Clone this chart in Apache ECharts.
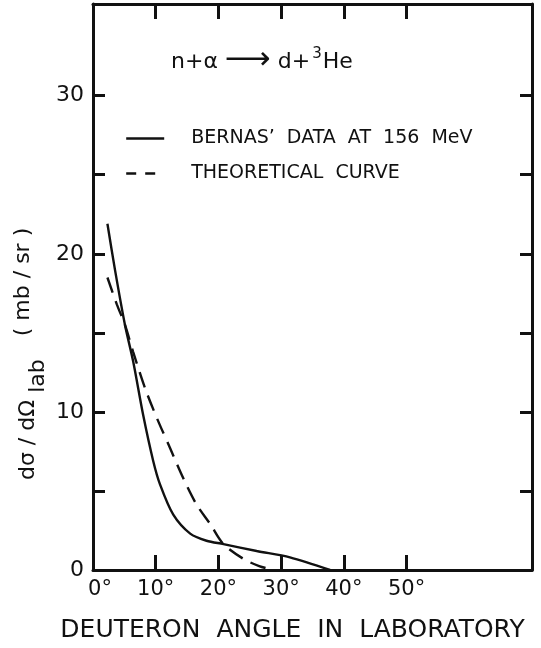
<!DOCTYPE html>
<html>
<head>
<meta charset="utf-8">
<script src="https://cdn.jsdelivr.net/npm/echarts@6/dist/echarts.min.js"></script>
<style>
  html, body { margin: 0; padding: 0; background: #fff; }
  #chart { width: 541px; height: 648px; }
</style>
</head>
<body>
<div id="chart"></div>
<script>
// Deuteron angle in the laboratory (degrees) and cross section (mb/sr)
const bernasAngle = [2.3, 3.5, 5.1, 6.4, 8.0, 9.6, 10.7, 12.8, 15.5, 18.1, 20.8, 26.1, 31.4, 37.8];
const bernasValue = [21.9, 19.0, 15.5, 13.2, 9.8, 6.9, 5.4, 3.5, 2.3, 1.85, 1.64, 1.2, 0.8, 0];

const theoryAngle = [2.3, 3.8, 5.1, 6.4, 8.3, 10.2, 12.3, 14.4, 16.5, 18.7, 20.8, 24.0, 26.5, 28.7];
const theoryValue = [18.5, 16.8, 15.5, 13.8, 11.5, 9.6, 7.7, 5.8, 4.15, 2.9, 1.64, 0.7, 0.25, 0];

const xLabelValues = [0, 10, 20, 30, 40, 50];
const xTickValues = [10, 20, 30, 40, 50];
const yLabelValues = [0, 10, 20, 30];
const yTickValues = [5, 10, 15, 20, 25, 30];

const seriesNames = ["BERNAS’  DATA  AT  156  MeV", "THEORETICAL  CURVE"];

const FONT = "DejaVu Sans";
const INK = "#111";

const pairs = (xs, ys) => xs.map((x, i) => [x, ys[i]]);

const chart = echarts.init(document.getElementById('chart'), null, { renderer: 'canvas' });

const frameLine = { show: true, onZero: false, lineStyle: { color: INK, width: 3 } };
// hide the marker the line-series legend icon adds on top of its stroke
const noMarker = { color: 'rgba(0,0,0,0)', borderWidth: 0, opacity: 0 };

chart.setOption({
  backgroundColor: '#fff',
  animation: false,
  title: {
    text: '{a|n+α }{r|⟶}{a| d+}{s|3}{a|He}',
    left: 166,
    top: 34,
    textStyle: {
      rich: {
        a: { fontFamily: FONT, fontSize: 22, fontWeight: 'normal', color: INK, padding: [8, 0, 0, 0] },
        r: { fontFamily: FONT, fontSize: 32, fontWeight: 'normal', color: INK, padding: [6, 0, 0, 0] },
        s: { fontFamily: FONT, fontSize: 15, fontWeight: 'normal', color: INK, padding: [0, 1, 8, 2] }
      }
    }
  },
  legend: {
    orient: 'vertical',
    left: 120,
    top: 124,
    itemWidth: 38,
    itemHeight: 14,
    itemGap: 16,
    textStyle: { fontFamily: FONT, fontSize: 19, color: INK, padding: [0, 0, 0, 22] },
    data: [
      { name: seriesNames[0], lineStyle: { color: INK, width: 2.4, type: 'solid' }, itemStyle: noMarker },
      { name: seriesNames[1], lineStyle: { color: INK, width: 2.4, type: [10, 9] }, itemStyle: noMarker }
    ]
  },
  grid: { left: 93, right: 9, top: 4, bottom: 74, containLabel: false },
  xAxis: [
    {
      type: 'value', min: 0, max: 70, interval: 10, position: 'bottom',
      axisLine: frameLine,
      axisTick: { show: true, inside: true, length: 15, lineStyle: { color: INK, width: 3 }, customValues: xTickValues },
      axisLabel: {
        fontFamily: FONT, fontSize: 21, color: INK, margin: 9,
        customValues: xLabelValues,
        formatter: v => (v === 0 ? '{z|0°}' : v + '°'),
        rich: { z: { fontFamily: FONT, fontSize: 21, color: INK, padding: [0, 0, 0, 14] } }
      },
      splitLine: { show: false },
      name: 'DEUTERON  ANGLE  IN  LABORATORY',
      nameLocation: 'middle',
      nameGap: 48,
      nameTextStyle: { fontFamily: FONT, fontSize: 25, color: INK, padding: [0, 40, 0, 0] }
    },
    {
      type: 'value', min: 0, max: 70, interval: 10, position: 'top',
      axisLine: frameLine,
      axisTick: { show: true, inside: true, length: 15, lineStyle: { color: INK, width: 3 }, customValues: xTickValues },
      axisLabel: { show: false },
      splitLine: { show: false }
    }
  ],
  yAxis: [
    {
      type: 'value', min: 0, max: 35.8, interval: 5, position: 'left',
      axisLine: frameLine,
      axisTick: { show: true, inside: true, length: 12, lineStyle: { color: INK, width: 3 }, customValues: yTickValues },
      axisLabel: { fontFamily: FONT, fontSize: 22, color: INK, margin: 9, customValues: yLabelValues },
      splitLine: { show: false }
    },
    {
      type: 'value', min: 0, max: 35.8, interval: 5, position: 'right',
      axisLine: frameLine,
      axisTick: { show: true, inside: true, length: 12, lineStyle: { color: INK, width: 3 }, customValues: yTickValues },
      axisLabel: { show: false },
      splitLine: { show: false }
    }
  ],
  graphic: [
    {
      type: 'text', x: 28, y: 440, rotation: Math.PI / 2,
      style: { text: 'dσ / dΩ', fontFamily: FONT, fontSize: 22, fill: INK, align: 'center', verticalAlign: 'middle' }
    },
    {
      type: 'text', x: 38, y: 376, rotation: Math.PI / 2,
      style: { text: 'lab', fontFamily: FONT, fontSize: 22, fill: INK, align: 'center', verticalAlign: 'middle' }
    },
    {
      type: 'text', x: 23, y: 282, rotation: Math.PI / 2,
      style: { text: '( mb / sr )', fontFamily: FONT, fontSize: 22, fill: INK, align: 'center', verticalAlign: 'middle' }
    }
  ],
  series: [
    {
      name: seriesNames[0],
      type: 'line',
      xAxisIndex: 0, yAxisIndex: 0,
      data: pairs(bernasAngle, bernasValue),
      showSymbol: false, symbol: 'none',
      smooth: 0.3,
      lineStyle: { color: INK, width: 2.4, type: 'solid' },
      itemStyle: { color: INK }
    },
    {
      name: seriesNames[1],
      type: 'line',
      xAxisIndex: 0, yAxisIndex: 0,
      data: pairs(theoryAngle, theoryValue),
      showSymbol: false, symbol: 'none',
      smooth: 0.3,
      lineStyle: { color: INK, width: 2.4, type: [16, 9] },
      itemStyle: { color: INK }
    }
  ]
});
</script>
</body>
</html>
